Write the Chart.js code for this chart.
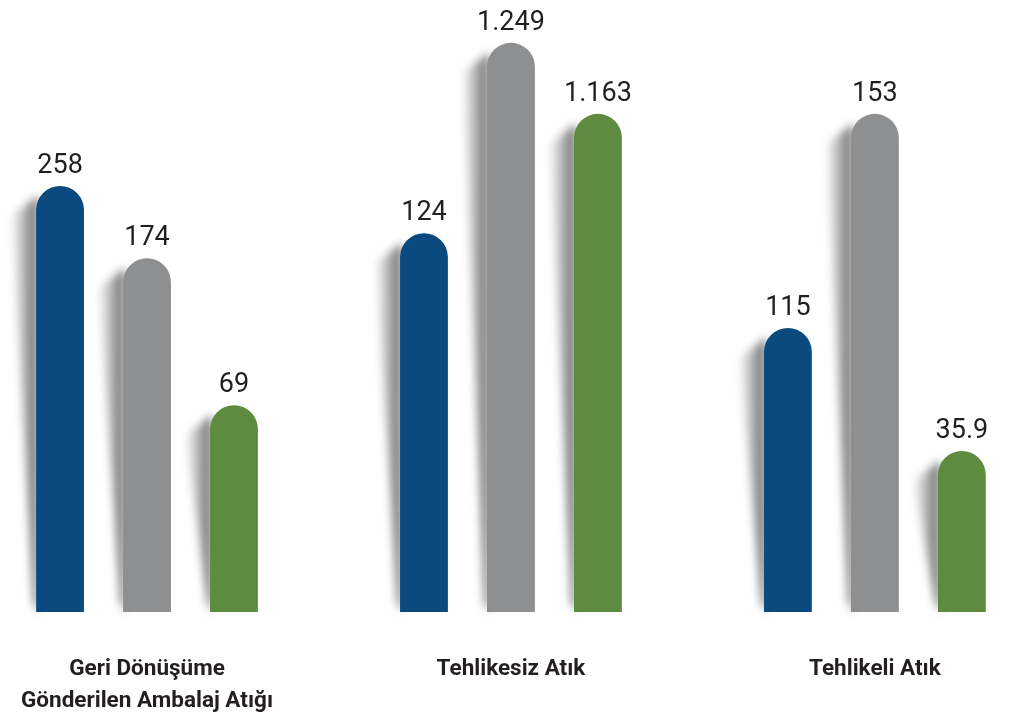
<!DOCTYPE html>
<html>
<head>
<meta charset="utf-8">
<script src="https://cdn.jsdelivr.net/npm/chart.js@4.4.1/dist/chart.umd.min.js"></script>
<style>
  html, body { margin: 0; padding: 0; background: #fff; }
  #wrap { width: 1019px; height: 715px; }
</style>
</head>
<body>
<div id="wrap"><canvas id="myChart"></canvas></div>
<script>
// kategoriler
const categories = [["Geri Dönüşüme", "Gönderilen Ambalaj Atığı"], ["Tehlikesiz Atık"], ["Tehlikeli Atık"]];

// bar heights as drawn (visual index 0-100, the picture is not to scale)
const blueHeights = [69.6, 61.9, 46.4];
const grayHeights = [57.8, 93.0, 81.4];
const greenHeights = [33.8, 81.4, 26.3];

// values written above the bars
const blueLabels = ["258", "124", "115"];
const grayLabels = ["174", "1.249", "153"];
const greenLabels = ["69", "1.163", "35.9"];

const colors = ["#0b4a7e", "#8e8f91", "#5e8b3f"];

const toPoints = (arr) => arr.map((v, i) => ({ x: i, y: v }));

// soft tapered shadow on the left side of each bar
const barShadow = {
  id: "barShadow",
  beforeDatasetsDraw(chart) {
    const ctx = chart.ctx;
    chart.data.datasets.forEach((ds, i) => {
      chart.getDatasetMeta(i).data.forEach((bar) => {
        const left = bar.x - bar.width / 2;
        const r = bar.width / 2;
        const g = ctx.createLinearGradient(left - 26, 0, left, 0);
        g.addColorStop(0, "rgba(80,80,80,0)");
        g.addColorStop(1, "rgba(50,50,50,0.7)");
        ctx.save();
        ctx.filter = "blur(4px)";
        ctx.fillStyle = g;
        ctx.beginPath();
        ctx.moveTo(left + 2, bar.y + r * 0.4);
        ctx.lineTo(left - 24, bar.y + r + 6);
        ctx.lineTo(left - 3, bar.base - 10);
        ctx.lineTo(left + 2, bar.base);
        ctx.closePath();
        ctx.fill();
        ctx.restore();
      });
    });
  }
};

const valueLabels = {
  id: "valueLabels",
  afterDatasetsDraw(chart) {
    const ctx = chart.ctx;
    ctx.save();
    ctx.font = "27px Roboto";
    ctx.fillStyle = "#231f20";
    ctx.textAlign = "center";
    ctx.textBaseline = "alphabetic";
    chart.data.datasets.forEach((ds, i) => {
      chart.getDatasetMeta(i).data.forEach((bar, j) => {
        ctx.fillText(ds.valueText[j], bar.x, bar.y - 13);
      });
    });
    ctx.restore();
  }
};

// category names under each group
const categoryLabels = {
  id: "categoryLabels",
  afterDraw(chart) {
    const ctx = chart.ctx;
    const xs = chart.scales.x;
    ctx.save();
    ctx.font = "bold 22.5px Roboto";
    ctx.fillStyle = "#231f20";
    ctx.textAlign = "center";
    ctx.textBaseline = "middle";
    categories.forEach((lines, i) => {
      lines.forEach((t, k) => {
        ctx.fillText(t, xs.getPixelForValue(i), chart.chartArea.bottom + 57 + k * 32);
      });
    });
    ctx.restore();
  }
};

new Chart(document.getElementById("myChart"), {
  type: "bar",
  data: {
    datasets: [
      { data: toPoints(blueHeights), valueText: blueLabels, backgroundColor: colors[0] },
      { data: toPoints(grayHeights), valueText: grayLabels, backgroundColor: colors[1] },
      { data: toPoints(greenHeights), valueText: greenLabels, backgroundColor: colors[2] }
    ]
  },
  options: {
    responsive: true,
    maintainAspectRatio: false,
    animation: false,
    layout: { padding: { left: 0, right: 0, top: 0, bottom: 103 } },
    categoryPercentage: 0.717,
    barPercentage: 0.55,
    datasets: {
      bar: {
        borderRadius: { topLeft: 24, topRight: 24, bottomLeft: 0, bottomRight: 0 },
        borderSkipped: "bottom"
      }
    },
    plugins: {
      legend: { display: false },
      tooltip: { enabled: false }
    },
    scales: {
      x: {
        type: "linear",
        display: false,
        offset: false,
        min: -0.404,
        max: 2.396,
        afterBuildTicks: (s) => {
          s.ticks = categories.map((c, i) => ({ value: i }));
        }
      },
      y: {
        display: false,
        min: 0,
        max: 100
      }
    }
  },
  plugins: [barShadow, valueLabels, categoryLabels]
});
</script>
</body>
</html>
